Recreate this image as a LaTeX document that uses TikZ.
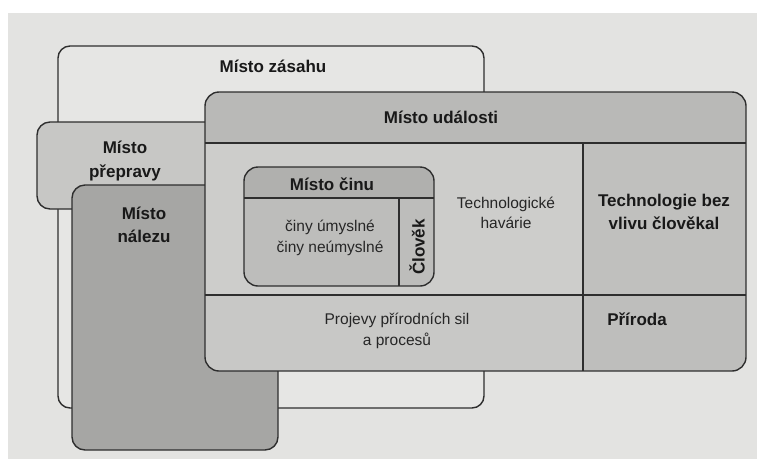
\documentclass[tikz,border=0pt]{standalone}
\usepackage{fontspec}
\setmainfont{Liberation Sans}
\definecolor{paper}{HTML}{E3E3E1}
\definecolor{zasahfill}{HTML}{E6E6E4}
\definecolor{prepfill}{HTML}{C7C7C5}
\definecolor{nalezfill}{HTML}{A6A6A4}
\definecolor{udhead}{HTML}{B9B9B7}
\definecolor{udbody}{HTML}{CDCDCB}
\definecolor{udright}{HTML}{C0C0BE}
\definecolor{udbottom}{HTML}{C8C8C6}
\definecolor{udcorner}{HTML}{BEBEBC}
\definecolor{cinhead}{HTML}{B0B0AE}
\definecolor{cinbody}{HTML}{BDBDBB}
\definecolor{lin}{HTML}{2E2E2E}
\tikzset{
  boxline/.style={draw=lin, line width=1.4pt},
  bigbox/.style={boxline, rounded corners=13pt},
  divline/.style={draw=lin, line width=1.2pt},
  boldtxt/.style={font=\bfseries\fontsize{17}{23.5}\selectfont, align=center, inner sep=0pt, text=black!90},
  normtxt/.style={font=\fontsize{15.5}{20.5}\selectfont, align=center, inner sep=0pt, text=black!85},
}
\begin{document}
\begin{tikzpicture}[x=1pt,y=-1pt]
\useasboundingbox (0,0) rectangle (765,459);
\fill[white] (0,0) rectangle (765,459);
\fill[paper] (8,13) rectangle (757,459);
% Misto zasahu
\path[bigbox, fill=zasahfill, rounded corners=12pt] (58,46) rectangle (484,408);
% Misto prepravy
\path[bigbox, fill=prepfill] (37,122) rectangle (230,209);
% Misto nalezu
\path[bigbox, fill=nalezfill] (72,185) rectangle (278,450);
% Misto udalosti
\begin{scope}
  \clip[rounded corners=14pt] (205,92) rectangle (746,371);
  \fill[udhead] (205,92) rectangle (746,143);
  \fill[udbody] (205,143) rectangle (583,295);
  \fill[udright] (583,143) rectangle (746,295);
  \fill[udbottom] (205,295) rectangle (583,371);
  \fill[udcorner] (583,295) rectangle (746,371);
\end{scope}
\coordinate (hl) at (205,143); \coordinate (hr) at (746,143);
\coordinate (vt) at (583,143); \coordinate (vb) at (583,371);
\coordinate (ml) at (205,295); \coordinate (mr) at (746,295);
\draw[divline] (hl) -- (hr);
\draw[divline] (vt) -- (vb);
\draw[divline] (ml) -- (mr);
\path[bigbox, rounded corners=14pt] (205,92) rectangle (746,371);
% Misto cinu
\begin{scope}
  \clip[rounded corners=14pt] (244,167) rectangle (434,286);
  \fill[cinhead] (244,167) rectangle (434,198);
  \fill[cinbody] (244,198) rectangle (434,286);
\end{scope}
\coordinate (chl) at (244,198); \coordinate (chr) at (434,198);
\coordinate (cvt) at (399,198); \coordinate (cvb) at (399,286);
\draw[divline] (chl) -- (chr);
\draw[divline] (cvt) -- (cvb);
\path[boxline, rounded corners=14pt] (244,167) rectangle (434,286);
% texts
\node[boldtxt] (zasah) at (273,66) {Místo zásahu};
\node[boldtxt] (preprava) at (125,161) {Místo\\přepravy};
\node[boldtxt] (nalez) at (144,225) {Místo\\nálezu};
\node[boldtxt] (udalost) at (441,117) {Místo události};
\node[boldtxt] (cin) at (332,184) {Místo činu};
\node[normtxt] (ciny) at (330,238) {činy úmyslné\\činy neúmyslné};
\node[boldtxt, rotate=90] (clovek) at (417,247) {Člověk};
\node[normtxt] (havarie) at (506,213) {Technologické\\havárie};
\node[boldtxt] (technologie) at (664,212) {Technologie bez\\vlivu člověkal};
\node[normtxt] (projevy) at (397,331) {Projevy přírodních sil\\a procesů};
\node[boldtxt] (priroda) at (637,319) {Příroda};
\end{tikzpicture}
\end{document}
